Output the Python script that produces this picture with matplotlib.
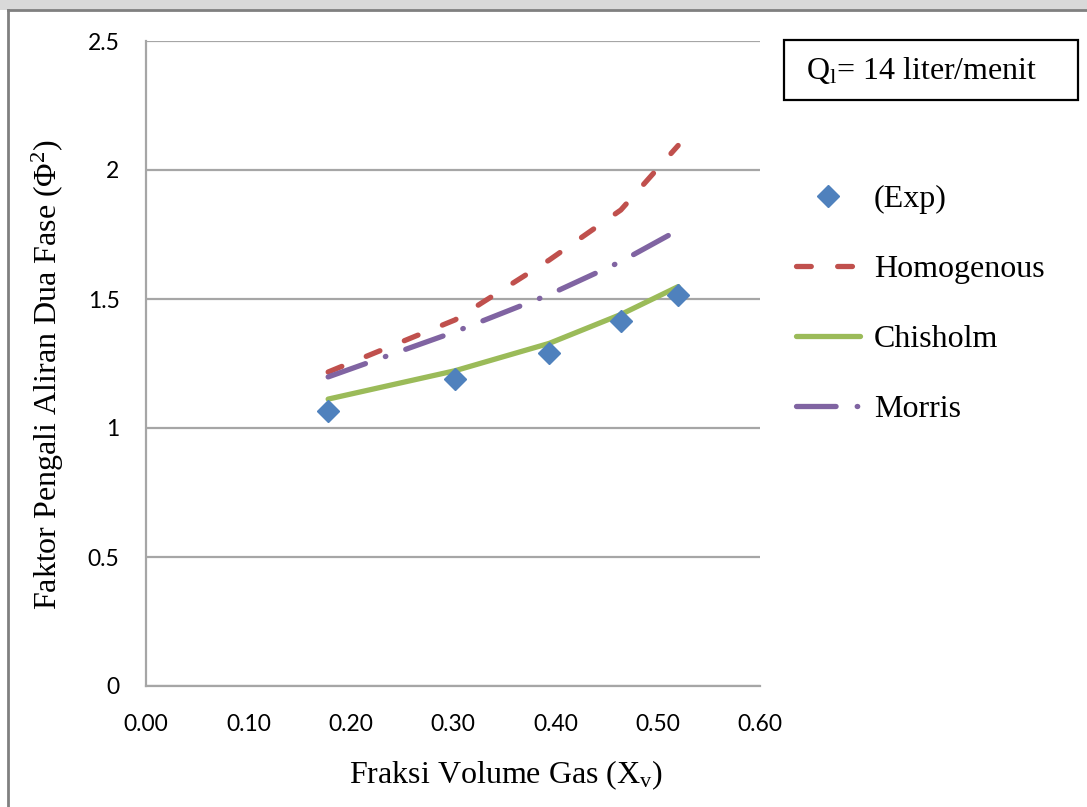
import matplotlib.pyplot as plt
from matplotlib.patches import Rectangle

plt.rcParams['mathtext.fontset'] = 'custom'
plt.rcParams['mathtext.rm'] = 'Liberation Serif'
plt.rcParams['mathtext.it'] = 'Liberation Serif:italic'

# data
xv = [0.178, 0.302, 0.394, 0.464, 0.520]
exp = [1.066, 1.190, 1.290, 1.415, 1.515]
homogenous = [1.217, 1.419, 1.651, 1.845, 2.095]
chisholm = [1.112, 1.222, 1.328, 1.440, 1.548]
morris = [1.198, 1.373, 1.517, 1.645, 1.767]

xticks = [0.0, 0.1, 0.2, 0.3, 0.4, 0.5, 0.6]
yticks = [0, 0.5, 1, 1.5, 2, 2.5]

W, H = 1087, 807
fig = plt.figure(figsize=(W / 100, H / 100), dpi=100)
fig.patch.set_facecolor('white')

# page background / chart frame
fig.patches.append(Rectangle((0, 1 - 10 / H), 1, 10 / H, transform=fig.transFigure,
                             facecolor='#d9d9d9', edgecolor='none', zorder=0))
fig.add_artist(plt.Line2D([8 / W, 1], [1 - 10 / H, 1 - 10 / H], transform=fig.transFigure,
                          color='#808080', lw=2))
fig.add_artist(plt.Line2D([8 / W, 8 / W], [0, 1 - 10 / H], transform=fig.transFigure,
                          color='#808080', lw=2))

ax = fig.add_axes([146 / W, 1 - 686 / H, 614 / W, 645 / H])

ax.plot(xv, exp, linestyle='none', marker='D', markersize=11, color='#4F81BD',
        label='(Exp)', zorder=5)
ax.plot(xv, homogenous, color='#C0504D', lw=3.8, dashes=(2.8, 5.0),
        dash_capstyle='round', label='Homogenous', zorder=3)
ax.plot(xv, chisholm, color='#9BBB59', lw=3.8, solid_capstyle='round',
        label='Chisholm', zorder=4)
ax.plot(xv, morris, color='#8064A2', lw=3.8, dashes=(7.5, 4, 0.1, 4),
        dash_capstyle='round', label='Morris', zorder=3)

ax.set_xlim(0, 0.6)
ax.set_ylim(0, 2.5)
ax.set_xticks(xticks)
ax.set_xticklabels([f'{t:.2f}' for t in xticks], fontfamily='Lato', fontsize=16.5)
ax.set_yticks(yticks)
ax.set_yticklabels([f'{t:g}' for t in yticks], fontfamily='Lato', fontsize=16.5)
ax.tick_params(length=0)
ax.tick_params(axis='y', pad=19)
ax.tick_params(axis='x', pad=20)
ax.yaxis.grid(True, color='#a6a6a6', lw=1.6)
ax.set_axisbelow(True)
for s in ['top', 'right']:
    ax.spines[s].set_visible(False)
for s in ['left', 'bottom']:
    ax.spines[s].set_color('#a6a6a6')
    ax.spines[s].set_linewidth(1.6)

ax.set_xlabel(r'Fraksi Volume Gas (X$_\mathregular{v}$)', fontfamily='Liberation Serif',
              fontsize=23)
ax.xaxis.set_label_coords(0.586, -0.113)
ax.set_ylabel(r'Faktor Pengali Aliran Dua Fase ($\mathregular{\Phi^2}$)',
              fontfamily='Liberation Serif', fontsize=23)
ax.yaxis.set_label_coords(-0.13, 0.482)

leg = ax.legend(loc='upper left', bbox_to_anchor=(783 / W, 1 - 172 / H),
                bbox_transform=fig.transFigure, frameon=False,
                prop={'family': 'Liberation Serif', 'size': 23},
                handlelength=2.0, handletextpad=0.45, labelspacing=1.27,
                borderaxespad=0)

# flow-rate box
fig.patches.append(Rectangle((784 / W, 1 - 100 / H), 294 / W, 60 / H,
                             transform=fig.transFigure, facecolor='white',
                             edgecolor='black', lw=1.6))
fig.text(806 / W, 1 - 71 / H, r'Q$_\mathregular{l}$= 14 liter/menit',
         fontfamily='Liberation Serif', fontsize=23, va='center', ha='left')

fig.savefig('out.png', dpi=100)
